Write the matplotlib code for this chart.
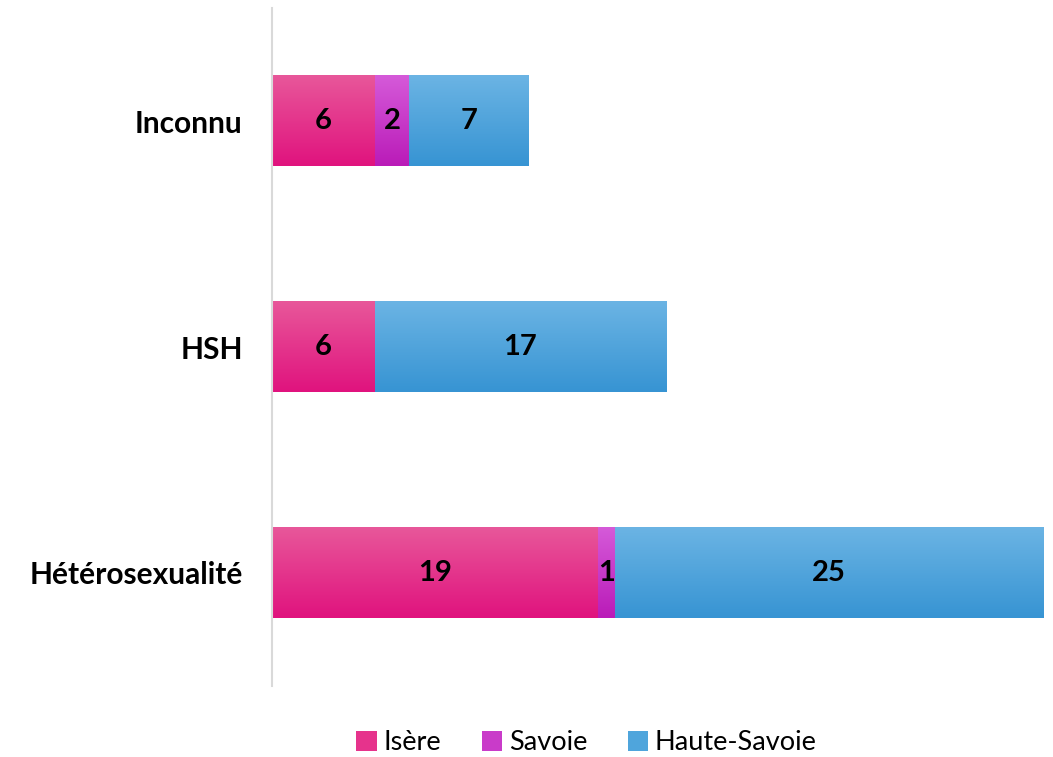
import numpy as np
import matplotlib
matplotlib.use("Agg")
import matplotlib.pyplot as plt
from matplotlib.colors import LinearSegmentedColormap
from matplotlib.patches import Patch

plt.rcParams['font.family'] = ['Lato', 'DejaVu Sans']

# data (bottom to top)
categories = ['Hétérosexualité', 'HSH', 'Inconnu']
isere = [19, 6, 6]
savoie = [1, 0, 2]
haute_savoie = [25, 17, 7]

series = [
    ('Isère', isere, '#E8579A', '#E0137E'),
    ('Savoie', savoie, '#D55AD9', '#BA1BB8'),
    ('Haute-Savoie', haute_savoie, '#6BB4E4', '#3794D3'),
]
legend_colors = ['#E6338C', '#C93BC9', '#4FA5DC']

fig = plt.figure(figsize=(10.53, 7.57), dpi=100)
ax = fig.add_axes([0.2583, 0.0938, 0.7322, 0.8956])

y = np.arange(len(categories))
left = np.zeros(len(categories))
bar_h = 0.4
grad = np.linspace(0, 1, 100).reshape(-1, 1)

for name, vals, top_c, bot_c in series:
    vals = np.array(vals, dtype=float)
    bars = ax.barh(y, vals, left=left, height=bar_h, color='none', edgecolor='none')
    cmap = LinearSegmentedColormap.from_list(name, [bot_c, top_c])
    for rect, v in zip(bars, vals):
        if v <= 0:
            continue
        x0, y0 = rect.get_x(), rect.get_y()
        w, h = rect.get_width(), rect.get_height()
        # vertical gradient fill, lighter on top
        ax.imshow(grad, extent=(x0, x0 + w, y0, y0 + h), origin='lower',
                  cmap=cmap, aspect='auto', zorder=2, interpolation='bicubic')
        ax.text(x0 + w / 2, y0 + h / 2, f'{int(v)}', ha='center', va='center',
                fontsize=21, fontweight='bold', color='black', zorder=3)
    left += vals

ax.set_xlim(0, 45)
ax.set_ylim(-0.5, 2.5)
ax.set_yticks(y)
ax.set_yticklabels(categories, fontsize=21.5, fontweight='bold')
ax.tick_params(axis='y', length=0, pad=21)
ax.set_xticks([])
for s in ['top', 'right', 'bottom']:
    ax.spines[s].set_visible(False)
ax.spines['left'].set_color('#D9D9D9')
ax.spines['left'].set_linewidth(1.5)

handles = [Patch(facecolor=c, label=s[0]) for s, c in zip(series, legend_colors)]
fig.legend(handles=handles, loc='center', bbox_to_anchor=(0.557, 0.019), ncol=3,
           frameon=False, fontsize=19.5, handlelength=0.75, handleheight=0.75,
           handletextpad=0.25, columnspacing=1.5)

fig.savefig('out.png', dpi=100)
